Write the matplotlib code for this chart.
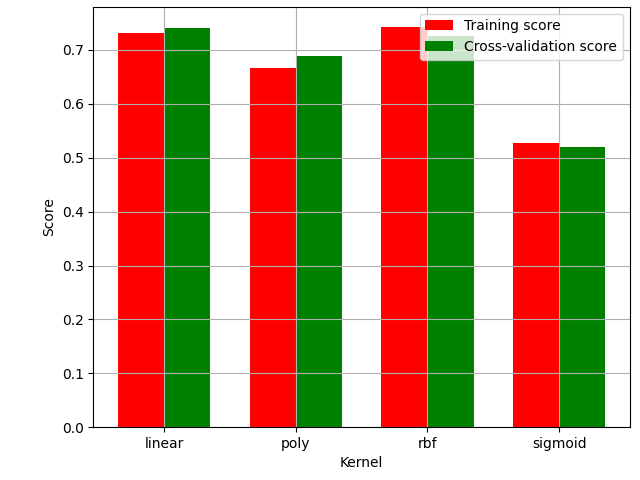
import matplotlib
matplotlib.use("Agg")
import matplotlib.pyplot as plt
import numpy as np

# Scores per SVM kernel
kernels = ["linear", "poly", "rbf", "sigmoid"]
train_scores = [0.731, 0.667, 0.743, 0.528]
cv_scores = [0.741, 0.688, 0.725, 0.519]

x = np.arange(len(kernels))
width = 0.35

fig, ax = plt.subplots(figsize=(6.4, 4.8), dpi=100)
ax.bar(x - width / 2, train_scores, width, color="red", label="Training score")
ax.bar(x + width / 2, cv_scores, width, color="green", label="Cross-validation score")

ax.set_xticks(x)
ax.set_xticklabels(kernels)
ax.set_xlabel("Kernel")
ax.set_ylabel("Score")
ax.legend(loc="upper right")
ax.grid(True)

fig.subplots_adjust(left=0.146, right=0.984, bottom=0.110, top=0.986)
plt.savefig("out.png")
plt.close()
